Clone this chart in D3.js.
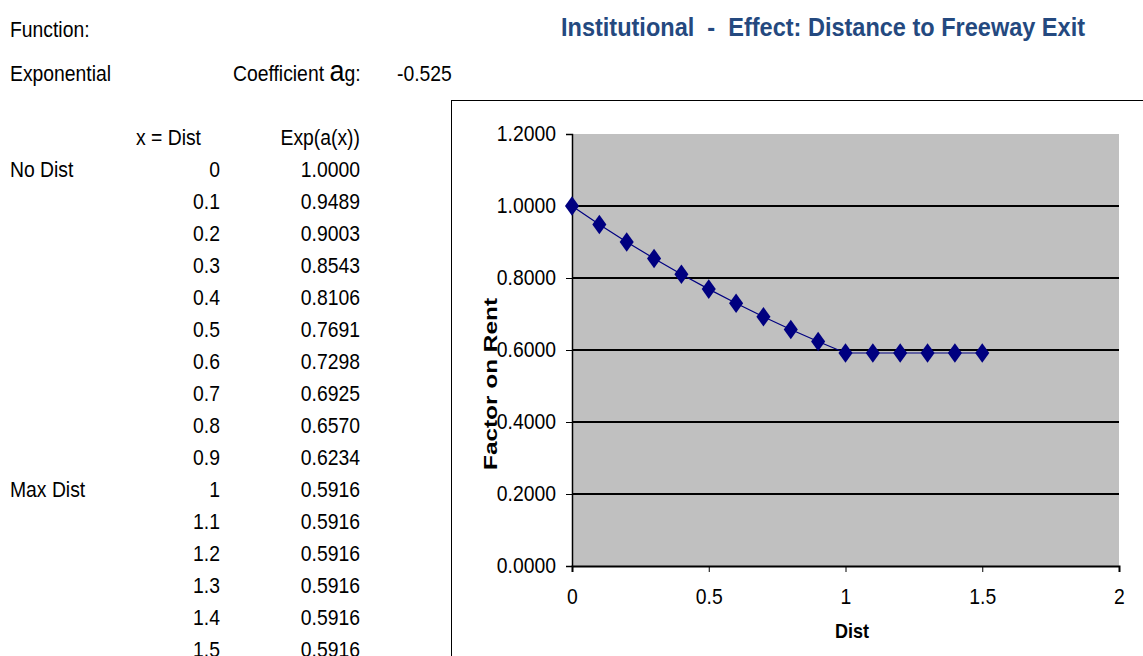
<!DOCTYPE html>
<html lang="en">
  <head>
    <meta charset="UTF-8" />
    <title>Institutional - Effect: Distance to Freeway Exit</title>
    <style>
      body { margin: 0; background: #fff; }
      text { font-family: "Liberation Sans", Arial, sans-serif; }
    </style>
  </head>
  <body>
    <script src="https://d3js.org/d3.v7.min.js"></script>
    <script>
      const width = 1143;
      const height = 656;

      // data
      const rowLabels = ["No Dist", "", "", "", "", "", "", "", "", "", "Max Dist", "", "", "", "", ""];
      const dist = [0, 0.1, 0.2, 0.3, 0.4, 0.5, 0.6, 0.7, 0.8, 0.9, 1, 1.1, 1.2, 1.3, 1.4, 1.5];
      const factor = [1.0, 0.9489, 0.9003, 0.8543, 0.8106, 0.7691, 0.7298, 0.6925, 0.657, 0.6234,
        0.5916, 0.5916, 0.5916, 0.5916, 0.5916, 0.5916];
      const coefficient = -0.525;
      const yTicks = [0, 0.2, 0.4, 0.6, 0.8, 1.0, 1.2];
      const xTicks = [0, 0.5, 1, 1.5, 2];

      const svg = d3.select("body").append("svg")
        .attr("width", width)
        .attr("height", height);

      // narrow-ish text: squeeze horizontally around the anchor point
      const sq = 0.9;
      const fs = 21.5;
      function label(x, y, s, anchor) {
        return svg.append("text")
          .attr("transform", `translate(${x},${y}) scale(${sq},1)`)
          .attr("font-size", fs)
          .attr("text-anchor", anchor || "start")
          .text(s);
      }

      // left sheet text
      label(10, 37, "Function:");
      label(10, 81, "Exponential");
      const coef = label(233, 81, "");
      coef.append("tspan").text("Coefficient ");
      coef.append("tspan").attr("font-size", 30).text("a");
      coef.append("tspan").text("g:");
      label(397, 81, coefficient.toFixed(3));

      label(201, 145, "x = Dist", "end");
      label(360, 145, "Exp(a(x))", "end");

      dist.forEach((d, i) => {
        const yy = 177 + i * 32;
        if (rowLabels[i]) label(10, yy, rowLabels[i]);
        label(220, yy, String(d), "end");
        label(360, yy, factor[i].toFixed(4), "end");
      });

      // title
      svg.append("text")
        .attr("x", 561).attr("y", 36)
        .attr("font-size", 26).attr("font-weight", "bold").attr("fill", "#24497f")
        .attr("textLength", 524).attr("lengthAdjust", "spacingAndGlyphs")
        .style("white-space", "pre")
        .text("Institutional  -  Effect: Distance to Freeway Exit");

      // chart frame
      svg.append("rect")
        .attr("x", 451.5).attr("y", 100.5)
        .attr("width", 760).attr("height", 600)
        .attr("fill", "#fff").attr("stroke", "#000").attr("stroke-width", 1);

      const x = d3.scaleLinear().domain([0, 2]).range([572, 1119]);
      const y = d3.scaleLinear().domain([0, 1.2]).range([566, 134]);

      svg.append("rect")
        .attr("x", x(0)).attr("y", y(1.2))
        .attr("width", x(2) - x(0)).attr("height", y(0) - y(1.2))
        .attr("fill", "#c0c0c0");

      // gridlines
      svg.append("g").selectAll("line").data(yTicks.filter((t) => t > 0 && t < 1.2)).join("line")
        .attr("x1", x(0)).attr("x2", x(2))
        .attr("y1", (d) => y(d)).attr("y2", (d) => y(d))
        .attr("stroke", "#000").attr("stroke-width", 2);

      const yAxis = svg.append("g")
        .attr("transform", `translate(${x(0)},0)`)
        .call(d3.axisLeft(y).tickValues(yTicks).tickFormat(d3.format(".4f")).tickSize(6).tickPadding(0));
      yAxis.select(".domain").attr("stroke", "#000").attr("stroke-width", 1.5);
      yAxis.selectAll(".tick text")
        .attr("x", null)
        .attr("transform", `translate(-16,0) scale(${sq},1)`)
        .attr("font-size", fs).attr("fill", "#000")
        .attr("font-family", "Liberation Sans, Arial, sans-serif");

      const xAxis = svg.append("g")
        .attr("transform", `translate(0,${y(0)})`)
        .call(d3.axisBottom(x).tickValues(xTicks).tickFormat((d) => d).tickSize(6).tickPadding(17));
      xAxis.select(".domain").attr("stroke", "#000").attr("stroke-width", 2);
      xAxis.selectAll(".tick text")
        .attr("transform", `scale(${sq},1)`)
        .attr("x", 0)
        .attr("font-size", fs).attr("fill", "#000")
        .attr("font-family", "Liberation Sans, Arial, sans-serif");

      // axis titles
      svg.append("text")
        .attr("transform", `translate(497,384) rotate(-90)`)
        .attr("text-anchor", "middle")
        .attr("font-size", 19).attr("font-weight", "bold")
        .attr("textLength", 172).attr("lengthAdjust", "spacingAndGlyphs")
        .text("Factor on Rent");
      svg.append("text")
        .attr("transform", `translate(852,638) scale(0.9,1)`)
        .attr("text-anchor", "middle")
        .attr("font-size", 20).attr("font-weight", "bold")
        .text("Dist");

      // series
      const line = d3.line().x((d, i) => x(dist[i])).y((d) => y(d));
      svg.append("path")
        .datum(factor)
        .attr("d", line)
        .attr("fill", "none")
        .attr("stroke", "#000080")
        .attr("stroke-width", 1.2);

      const diamond = d3.symbol().type(d3.symbolDiamond).size(110);
      svg.append("g").selectAll("path").data(factor).join("path")
        .attr("transform", (d, i) => `translate(${x(dist[i])},${y(d)}) scale(1.25,1)`)
        .attr("d", diamond)
        .attr("fill", "#000080");
    </script>
  </body>
</html>
